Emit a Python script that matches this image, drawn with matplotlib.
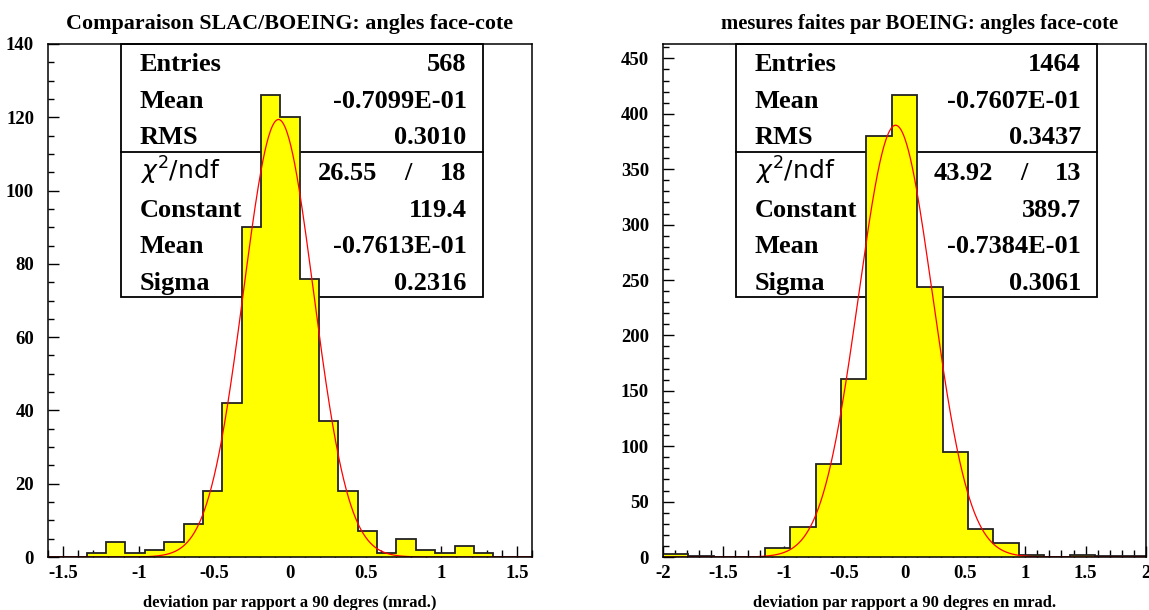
import numpy as np
import matplotlib
matplotlib.use("Agg")
import matplotlib.pyplot as plt
from matplotlib.ticker import MultipleLocator
from matplotlib.patches import Rectangle

# ---------------- data ----------------
left_title = "Comparaison SLAC/BOEING: angles face-cote"
left_xlabel = "deviation par rapport a 90 degres (mrad.)"
left_range = (-1.6, 1.6)
left_counts = [0, 0, 1, 4, 1, 2, 4, 9, 18, 42, 90, 126, 120, 76, 37, 18, 7, 1, 5, 2, 1, 3, 1, 0, 0]
left_stats = [("Entries", "568"), ("Mean", "-0.7099E-01"), ("RMS", "0.3010")]
left_chi2 = ("26.55", "18")
left_fit = [("Constant", "119.4"), ("Mean", "-0.7613E-01"), ("Sigma", "0.2316")]
left_fit_params = (119.4, -0.07613, 0.2316)
left_ylim = (0, 140)
left_yticks = [0, 20, 40, 60, 80, 100, 120, 140]
left_xticks = [-1.5, -1, -0.5, 0, 0.5, 1, 1.5]
left_xticklabels = ["-1.5", "-1", "-0.5", "0", "0.5", "1", "1.5"]

right_title = "mesures faites par BOEING: angles face-cote"
right_xlabel = "deviation par rapport a 90 degres en mrad."
right_range = (-2.0, 2.0)
right_counts = [3, 1, 0, 0, 8, 27, 84, 161, 380, 417, 244, 95, 25, 13, 2, 0, 2, 1, 1]
right_stats = [("Entries", "1464"), ("Mean", "-0.7607E-01"), ("RMS", "0.3437")]
right_chi2 = ("43.92", "13")
right_fit = [("Constant", "389.7"), ("Mean", "-0.7384E-01"), ("Sigma", "0.3061")]
right_fit_params = (389.7, -0.07384, 0.3061)
right_ylim = (0, 463)
right_yticks = [0, 50, 100, 150, 200, 250, 300, 350, 400, 450]
right_xticks = [-2, -1.5, -1, -0.5, 0, 0.5, 1, 1.5, 2]
right_xticklabels = ["-2", "-1.5", "-1", "-0.5", "0", "0.5", "1", "1.5", "2"]

SERIF = "Liberation Serif"

W, H = 1149, 610
fig = plt.figure(figsize=(W / 100, H / 100), dpi=100)


def px_axes(x0, y0, x1, y1):
    return fig.add_axes([x0 / W, 1 - y1 / H, (x1 - x0) / W, (y1 - y0) / H])


def draw_panel(ax, title, title_fs, title_x, xlabel, xr, counts, stats, chi2, fit, params,
               ylim, yticks, ymin_step, xticks, xticklabels, chi_x, slash_x):
    counts = np.asarray(counts, float)
    edges = np.linspace(xr[0], xr[1], len(counts) + 1)
    ax.stairs(counts, edges, fill=True, color="#ffff00", zorder=3)
    ax.stairs(counts, edges, color="#222222", lw=1.3, zorder=3.2)
    xs = np.linspace(xr[0], xr[1], 800)
    c, m, s = params
    ax.plot(xs, c * np.exp(-0.5 * ((xs - m) / s) ** 2), color="red", lw=0.9, zorder=3.4)
    ax.set_xlim(*xr)
    ax.set_ylim(*ylim)

    # stats box (drawn below histogram)
    bx0, bx1, by0, by1, bsep = 0.151, 0.898, 0.507, 1.0, 0.789
    ax.add_patch(Rectangle((bx0, by0), bx1 - bx0, by1 - by0, transform=ax.transAxes,
                           facecolor="white", edgecolor="black", lw=1.3, zorder=1,
                           clip_on=False))
    ax.plot([bx0, bx1], [bsep, bsep], transform=ax.transAxes, color="black", lw=1.3, zorder=1)
    baselines_px = [71, 108, 144, 180, 217, 253, 290]
    rows = [(557 - b) / 513 for b in baselines_px]
    lx, vx = 0.19, 0.865
    fs = 19
    kw = dict(transform=ax.transAxes, va="baseline", fontsize=fs, fontweight="bold",
              family=SERIF, zorder=1.5)
    for (lab, val), yy in zip(stats, rows[:3]):
        ax.text(lx, yy, lab, ha="left", **kw)
        ax.text(vx, yy, val, ha="right", **kw)
    ax.text(lx, rows[3], r"$\chi^2$/ndf", transform=ax.transAxes, ha="left", va="baseline",
            fontsize=18, family="DejaVu Sans", zorder=1.5)
    ax.text(chi_x, rows[3], chi2[0], ha="right", **kw)
    ax.text(slash_x, rows[3], "/", ha="center", **kw)
    ax.text(vx, rows[3], chi2[1], ha="right", **kw)
    for (lab, val), yy in zip(fit, rows[4:]):
        ax.text(lx, yy, lab, ha="left", **kw)
        ax.text(vx, yy, val, ha="right", **kw)

    # ticks
    ax.set_xticks(xticks)
    ax.set_xticklabels(xticklabels)
    ax.xaxis.set_minor_locator(MultipleLocator(0.1))
    ax.set_yticks(yticks)
    ax.yaxis.set_minor_locator(MultipleLocator(ymin_step))
    ax.tick_params(axis="both", which="both", direction="in", top=False, right=False,
                   width=1.0, color="black")
    ax.tick_params(axis="x", which="major", length=8, pad=6)
    ax.tick_params(axis="x", which="minor", length=5)
    ax.tick_params(axis="y", which="major", length=8, pad=10)
    ax.tick_params(axis="y", which="minor", length=4)
    for lab in ax.get_xticklabels() + ax.get_yticklabels():
        lab.set_fontfamily(SERIF)
        lab.set_fontweight("bold")
        lab.set_fontsize(13.5)
    for sp in ax.spines.values():
        sp.set_linewidth(1.1)
        sp.set_zorder(4)
    ax.set_xlabel(xlabel, fontsize=12, fontweight="bold", family=SERIF, labelpad=9)
    ax.set_title(title, fontsize=title_fs, fontweight="bold", family=SERIF, pad=11, x=title_x)


ax1 = px_axes(48, 44, 532, 557)
draw_panel(ax1, left_title, 15.8, 0.5, left_xlabel, left_range, left_counts, left_stats,
           left_chi2, left_fit, left_fit_params, left_ylim, left_yticks, 5, left_xticks,
           left_xticklabels, 0.68, 0.744)

ax2 = px_axes(663, 44, 1146, 557)
draw_panel(ax2, right_title, 14.9, 0.531, right_xlabel, right_range, right_counts, right_stats,
           right_chi2, right_fit, right_fit_params, right_ylim, right_yticks, 10, right_xticks,
           right_xticklabels, 0.683, 0.747)

fig.savefig("out.png", dpi=100)
